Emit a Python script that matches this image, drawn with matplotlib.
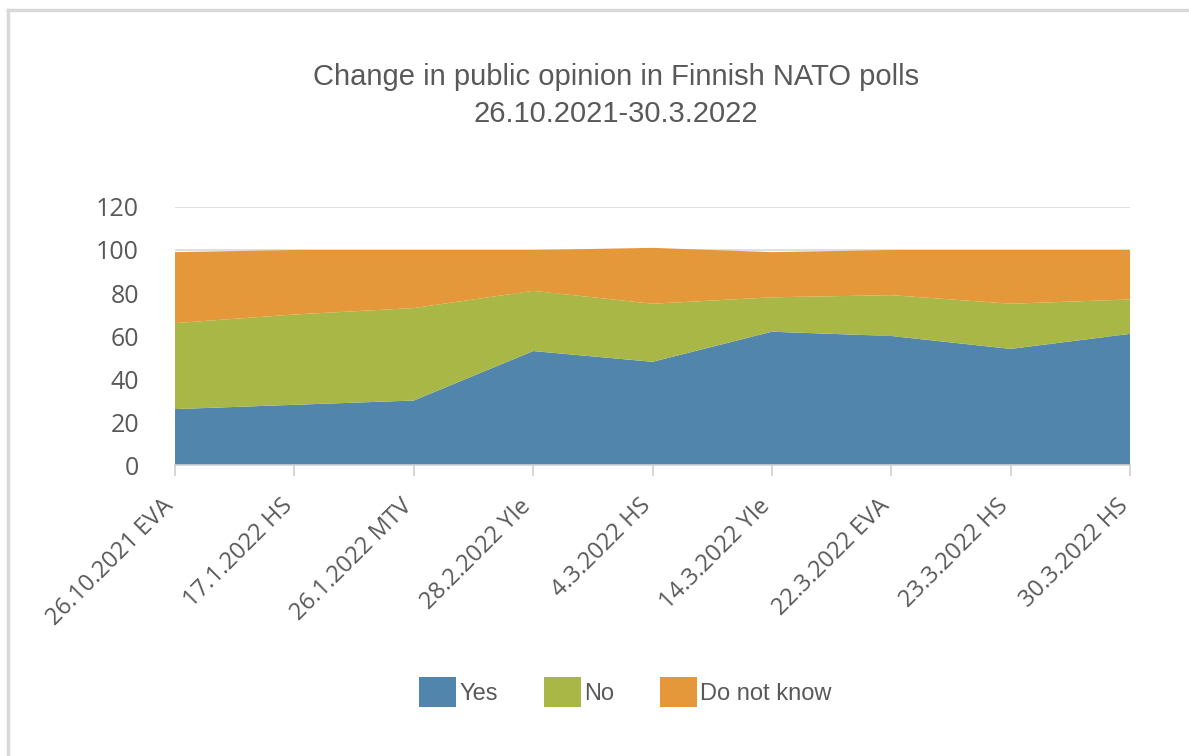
import numpy as np
import matplotlib
matplotlib.use("Agg")
import matplotlib.pyplot as plt
import matplotlib.transforms as mtransforms
from matplotlib.lines import Line2D
from matplotlib.patches import Patch

# poll data (percent)
polls = ["26.10.2021 EVA", "17.1.2022 HS", "26.1.2022 MTV", "28.2.2022 Yle",
         "4.3.2022 HS", "14.3.2022 Yle", "22.3.2022 EVA", "23.3.2022 HS", "30.3.2022 HS"]
yes = [26, 28, 30, 53, 48, 62, 60, 54, 61]
no = [40, 42, 43, 28, 27, 16, 19, 21, 16]
dont_know = [33, 30, 27, 19, 26, 21, 21, 25, 23]
series_names = ["Yes", "No", "Do not know"]
colors = ["#5185AC", "#A8B746", "#E49839"]

grey = "#595959"

fig = plt.figure(figsize=(11.89, 7.56), dpi=100)
ax = fig.add_axes([0.1472, 0.3849, 0.8032, 0.3413])

x = np.arange(len(polls))
ax.stackplot(x, yes, no, dont_know, colors=colors, linewidth=0, zorder=2)

ax.set_xlim(0, len(polls) - 1)
ax.set_ylim(0, 120)
ax.set_yticks(range(0, 121, 20))
ax.grid(axis="y", color="#d9d9d9", linewidth=1.2, zorder=1)
ax.set_axisbelow(True)

for s in ["top", "right", "left"]:
    ax.spines[s].set_visible(False)
ax.spines["bottom"].set_color("#d0d0d0")
ax.spines["bottom"].set_linewidth(1.2)
ax.spines["bottom"].set_zorder(3)

ax.set_xticks(x)
ax.set_xticklabels(polls, rotation=45, ha="right", rotation_mode="anchor",
                   fontsize=17, color=grey, family="Open Sans")
ax.tick_params(axis="x", length=8, width=1.2, color="#d0d0d0", pad=13)
ax.tick_params(axis="y", length=0, pad=26, labelsize=18, labelcolor=grey)
for lbl in ax.get_yticklabels():
    lbl.set_family("Open Sans")
shift = mtransforms.ScaledTranslation(-14 / 100, 0, fig.dpi_scale_trans)
for lbl in ax.get_xticklabels():
    lbl.set_transform(lbl.get_transform() + shift)

fig.text(0.518, 0.874, "Change in public opinion in Finnish NATO polls\n26.10.2021-30.3.2022",
         ha="center", va="center", fontsize=21, color=grey, family="Liberation Sans",
         linespacing=1.4)

handles = [Patch(facecolor=c, edgecolor="none") for c in colors]
fig.legend(handles, series_names, loc="center", bbox_to_anchor=(0.526, 0.085), ncol=3,
           frameon=False, prop={"family": "Liberation Sans", "size": 17},
           labelcolor=grey, handlelength=1.55, handleheight=1.55,
           handletextpad=0.15, columnspacing=1.95)

# light frame on top and left
fig.add_artist(Line2D([0.007, 1.0], [0.987, 0.987], transform=fig.transFigure,
                      color="#d9d9d9", linewidth=2.5))
fig.add_artist(Line2D([0.007, 0.007], [0.0, 0.987], transform=fig.transFigure,
                      color="#d9d9d9", linewidth=2.5))

fig.savefig("out.png", dpi=100)
